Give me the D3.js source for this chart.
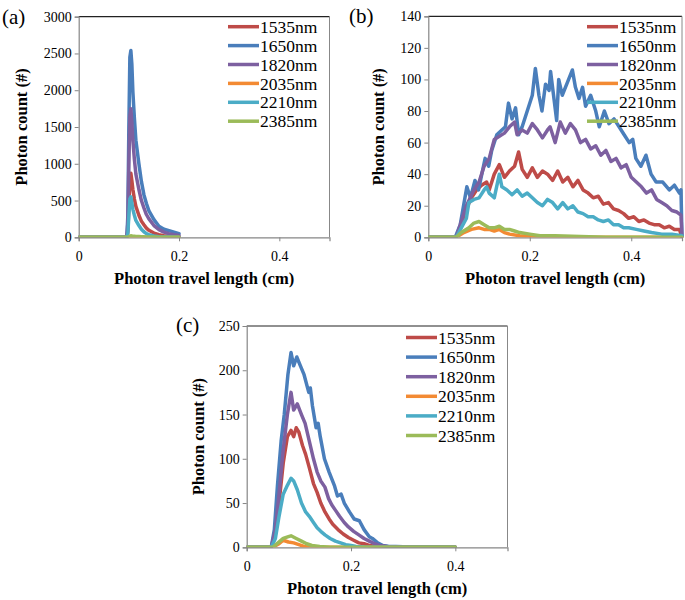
<!DOCTYPE html>
<html><head><meta charset="utf-8">
<script src="https://cdn.jsdelivr.net/npm/d3@7"></script>
<style>
body{margin:0;background:#fff}
svg text{font-family:"Liberation Serif","Tinos","DejaVu Serif","Times New Roman",serif !important;fill:#000}
</style>
</head><body>
<svg id="chart" width="685" height="600"></svg>
<script>
// ---------- DATA ----------
const seriesNames = ["1535nm","1650nm","1820nm","2035nm","2210nm","2385nm"];
const seriesColors = ["#BE4B48","#4A7EBB","#7D60A0","#F38A33","#4BACC6","#9BBB59"];
const xTickValues = [0, 0.2, 0.4];
const xTickLabels = ["0","0.2","0.4"];
const yTicksA = [0,500,1000,1500,2000,2500,3000];
const yTicksB = [0,20,40,60,80,100,120,140];
const yTicksC = [0,50,100,150,200,250];

// Panel (a): shared x grid (cm)
const aX = [0,0.096,0.098,0.100,0.102,0.104,0.106,0.108,0.111,0.114,0.120,0.125,0.130,0.135,0.140,0.150,0.160,0.170,0.180,0.190,0.200];
const a1535 = [0,0,80,420,800,870,770,650,520,420,300,220,170,125,95,58,35,22,14,9,5];
const a1650 = [0,0,300,1500,2450,2540,2350,1980,1620,1320,1000,760,580,460,360,240,150,110,90,70,50];
const a1820 = [0,0,200,1000,1650,1750,1570,1320,1060,860,650,500,400,310,250,160,105,70,50,35,25];
const a2035 = [0,0,1,4,8,10,9,8,7,6,5,4,3,2,2,1,1,0,0,0,0];
const a2210 = [0,0,50,300,520,550,470,380,300,230,160,110,75,50,35,18,9,5,3,2,1];
const a2385 = [0,0,2,8,16,20,18,16,14,12,10,8,6,5,4,3,2,1,1,0,0];

// Panel (b): [x, count]
const b1535 = [[0,0],[0.055,0],[0.065,8],[0.075,18],[0.085,25],[0.095,30],[0.105,33],[0.115,35],[0.12,30],[0.13,40],[0.14,46],[0.15,38],[0.16,42],[0.17,45],[0.178,54],[0.185,43],[0.195,38],[0.205,44],[0.215,38],[0.225,42],[0.235,40],[0.245,36],[0.255,42],[0.265,35],[0.275,38],[0.285,32],[0.295,36],[0.305,30],[0.315,28],[0.325,25],[0.335,26],[0.345,21],[0.355,22],[0.365,18],[0.375,17],[0.385,15],[0.395,12],[0.405,13],[0.415,10],[0.425,11],[0.435,9],[0.445,8],[0.455,8],[0.465,6],[0.475,7],[0.485,5],[0.495,5],[0.5,0]];
const b1650 = [[0,0],[0.053,0],[0.063,8],[0.076,32],[0.083,25],[0.092,36],[0.099,30],[0.112,50],[0.119,45],[0.125,55],[0.135,65],[0.145,68],[0.152,70],[0.158,85],[0.165,75],[0.172,82],[0.178,65],[0.185,70],[0.195,80],[0.205,90],[0.211,107],[0.218,90],[0.224,80],[0.231,97],[0.238,93],[0.241,105],[0.248,87],[0.253,74],[0.257,100],[0.264,90],[0.274,98],[0.284,106],[0.29,95],[0.297,88],[0.304,95],[0.31,83],[0.32,90],[0.33,80],[0.337,70],[0.347,80],[0.356,72],[0.366,75],[0.376,70],[0.386,65],[0.396,60],[0.403,62],[0.409,50],[0.419,45],[0.429,52],[0.439,40],[0.449,35],[0.462,35],[0.475,30],[0.485,33],[0.495,28],[0.498,30],[0.5,0]];
const b1820 = [[0,0],[0.055,0],[0.063,8],[0.075,20],[0.09,30],[0.1,35],[0.11,45],[0.12,50],[0.13,62],[0.14,64],[0.15,66],[0.16,70],[0.17,73],[0.175,65],[0.185,68],[0.195,66],[0.205,72],[0.215,68],[0.225,63],[0.235,68],[0.24,70],[0.25,60],[0.26,73],[0.27,66],[0.28,72],[0.29,68],[0.3,60],[0.31,62],[0.32,56],[0.33,58],[0.34,52],[0.35,55],[0.36,48],[0.37,50],[0.38,44],[0.39,46],[0.4,38],[0.41,35],[0.42,32],[0.43,28],[0.44,30],[0.45,24],[0.46,22],[0.47,20],[0.48,17],[0.49,16],[0.498,14],[0.5,0]];
const b2035 = [[0,0],[0.055,0],[0.07,3],[0.085,5],[0.1,6],[0.11,5],[0.12,5],[0.13,4],[0.14,5],[0.15,3],[0.16,2],[0.18,1],[0.2,0.5],[0.25,0],[0.5,0]];
const b2210 = [[0,0],[0.055,0],[0.065,6],[0.075,12],[0.08,22],[0.09,24],[0.1,25],[0.11,30],[0.115,32],[0.12,28],[0.13,25],[0.14,40],[0.145,32],[0.155,30],[0.165,27],[0.175,30],[0.185,26],[0.195,28],[0.205,25],[0.215,22],[0.225,20],[0.235,24],[0.245,22],[0.255,18],[0.265,22],[0.275,18],[0.285,20],[0.295,16],[0.305,15],[0.315,13],[0.325,13],[0.335,11],[0.345,10],[0.355,11],[0.365,8],[0.375,8],[0.385,6],[0.395,6],[0.41,5],[0.425,4],[0.44,3],[0.46,2],[0.48,2],[0.5,1]];
const b2385 = [[0,0],[0.055,0],[0.065,3],[0.08,6],[0.09,9],[0.1,10],[0.11,8],[0.12,6],[0.13,6],[0.14,7],[0.15,5],[0.16,5],[0.17,4],[0.18,3],[0.2,2],[0.22,1],[0.25,1],[0.3,0.5],[0.35,0],[0.5,0]];

// Panel (c): [x, count]
const c1535 = [[0,0],[0.047,0],[0.055,15],[0.062,50],[0.07,95],[0.078,125],[0.085,132],[0.09,125],[0.095,135],[0.1,130],[0.107,115],[0.113,105],[0.12,90],[0.128,72],[0.135,62],[0.142,50],[0.15,40],[0.158,32],[0.165,26],[0.175,20],[0.185,15],[0.195,11],[0.205,8],[0.215,5],[0.225,4],[0.235,2],[0.25,1],[0.28,0],[0.4,0]];
const c1650 = [[0,0],[0.047,0],[0.053,20],[0.059,70],[0.066,120],[0.072,150],[0.079,195],[0.085,220],[0.09,205],[0.096,215],[0.103,205],[0.11,195],[0.119,175],[0.122,180],[0.126,160],[0.133,135],[0.137,140],[0.141,125],[0.149,100],[0.158,85],[0.168,70],[0.174,58],[0.181,60],[0.187,50],[0.197,40],[0.206,32],[0.216,30],[0.225,20],[0.235,12],[0.241,10],[0.251,5],[0.261,2],[0.273,1],[0.286,1],[0.3,0.5],[0.4,0]];
const c1820 = [[0,0],[0.047,0],[0.055,20],[0.062,60],[0.07,110],[0.078,150],[0.085,175],[0.09,155],[0.097,162],[0.105,150],[0.112,140],[0.12,120],[0.128,100],[0.135,85],[0.142,75],[0.15,68],[0.157,55],[0.163,48],[0.17,42],[0.178,35],[0.187,28],[0.195,23],[0.205,18],[0.215,14],[0.225,10],[0.235,7],[0.245,4],[0.255,2],[0.27,1],[0.3,0],[0.4,0]];
const c2035 = [[0,0],[0.05,0],[0.062,4],[0.07,8],[0.08,6],[0.09,5],[0.1,3],[0.11,1],[0.12,0],[0.4,0]];
const c2210 = [[0,0],[0.047,0],[0.055,10],[0.062,35],[0.07,60],[0.078,70],[0.085,78],[0.09,75],[0.097,65],[0.105,50],[0.113,40],[0.12,35],[0.128,28],[0.135,22],[0.142,18],[0.15,14],[0.16,10],[0.17,7],[0.18,5],[0.19,3],[0.2,2],[0.21,1],[0.23,0],[0.4,0]];
const c2385 = [[0,0],[0.05,0],[0.06,5],[0.07,10],[0.08,12],[0.085,13],[0.095,10],[0.105,7],[0.115,4],[0.125,2],[0.14,1],[0.16,0],[0.4,0]];

// ---------- DRAW ----------
const FONT = "'Liberation Serif','Tinos','DejaVu Serif','Times New Roman',serif";
const svg = d3.select("#chart");
const aSeries = [a1535,a1650,a1820,a2035,a2210,a2385].map(ys => ys.map((y,i) => [aX[i], y]));

const panels = [
  {id:"a", label:"(a)", labelX:2, labelY:24, left:78.7, top:16.7, right:329.5, bottom:237.3,
   yMax:3000, yTicks:yTicksA, data:aSeries, ytitleX:21, legX:228, legY:26.7, legStep:18.9},
  {id:"b", label:"(b)", labelX:349, labelY:23, left:428.3, top:16.3, right:682, bottom:237.3,
   yMax:140, yTicks:yTicksB, data:[b1535,b1650,b1820,b2035,b2210,b2385], ytitleX:378, legX:587, legY:26.7, legStep:18.9},
  {id:"c", label:"(c)", labelX:176, labelY:332, left:246.7, top:326, right:507.5, bottom:547.3,
   yMax:250, yTicks:yTicksC, data:[c1535,c1650,c1820,c2035,c2210,c2385], ytitleX:198, legX:406, legY:337.5, legStep:19.6}
];

panels.forEach(p => {
  const x = d3.scaleLinear().domain([0,0.5]).range([p.left,p.right]);
  const y = d3.scaleLinear().domain([0,p.yMax]).range([p.bottom,p.top]);
  const g = svg.append("g").attr("font-family", FONT);

  svg.append("clipPath").attr("id","clip-"+p.id).append("rect")
    .attr("x",p.left).attr("y",p.top-2).attr("width",p.right-p.left+2).attr("height",p.bottom-p.top+2);

  g.append("line").attr("x1",p.left).attr("x2",p.right).attr("y1",p.top).attr("y2",p.top)
    .attr("stroke","#222").attr("stroke-width",1.2);
  g.append("line").attr("x1",p.right).attr("x2",p.right).attr("y1",p.top).attr("y2",p.bottom)
    .attr("stroke","#888").attr("stroke-width",1);

  const ya = g.append("g").attr("transform",`translate(${p.left},0)`)
    .call(d3.axisLeft(y).tickValues(p.yTicks).tickSize(4).tickPadding(3).tickFormat(d3.format("d")));
  ya.attr("font-family", FONT).attr("font-size", 14);
  ya.select(".domain").attr("stroke","#868686").attr("stroke-width",1.2);
  ya.selectAll(".tick line").attr("stroke","#868686");
  ya.selectAll(".tick text").attr("fill","#000");

  const xa = g.append("g").attr("transform",`translate(0,${p.bottom})`)
    .call(d3.axisBottom(x).tickValues(xTickValues).tickSize(4).tickPadding(10)
      .tickFormat((d,i) => xTickLabels[i]));
  xa.attr("font-family", FONT).attr("font-size", 14);
  xa.select(".domain").attr("stroke","#868686").attr("stroke-width",1.2);
  xa.selectAll(".tick line").attr("stroke","#868686");
  xa.selectAll(".tick text").attr("fill","#000");

  const line = d3.line().x(d => x(d[0])).y(d => y(d[1]));
  const lg = g.append("g").attr("clip-path",`url(#clip-${p.id})`);
  p.data.forEach((s,i) => {
    lg.append("path").datum(s).attr("d",line).attr("fill","none")
      .attr("stroke",seriesColors[i]).attr("stroke-width",3.5)
      .attr("stroke-linejoin","round").attr("stroke-linecap","round");
  });

  g.append("text").attr("x",(p.left+p.right)/2).attr("y",p.bottom+47)
    .attr("text-anchor","middle").attr("font-size",16.5).attr("font-weight","bold")
    .text("Photon travel length (cm)");
  g.append("text").attr("transform",`translate(${p.ytitleX},${(p.top+p.bottom)/2}) rotate(-90)`)
    .attr("text-anchor","middle").attr("dy","0.35em").attr("font-size",16.5).attr("font-weight","bold")
    .text("Photon count (#)");
  g.append("text").attr("x",p.labelX).attr("y",p.labelY).attr("font-size",21).text(p.label);

  seriesNames.forEach((n,i) => {
    const yy = p.legY + i*p.legStep;
    g.append("line").attr("x1",p.legX).attr("x2",p.legX+31).attr("y1",yy).attr("y2",yy)
      .attr("stroke",seriesColors[i]).attr("stroke-width",3.5);
    g.append("text").attr("x",p.legX+32).attr("y",yy).attr("dy","0.35em")
      .attr("font-size",17.5).text(n);
  });
});
</script>
</body></html>
